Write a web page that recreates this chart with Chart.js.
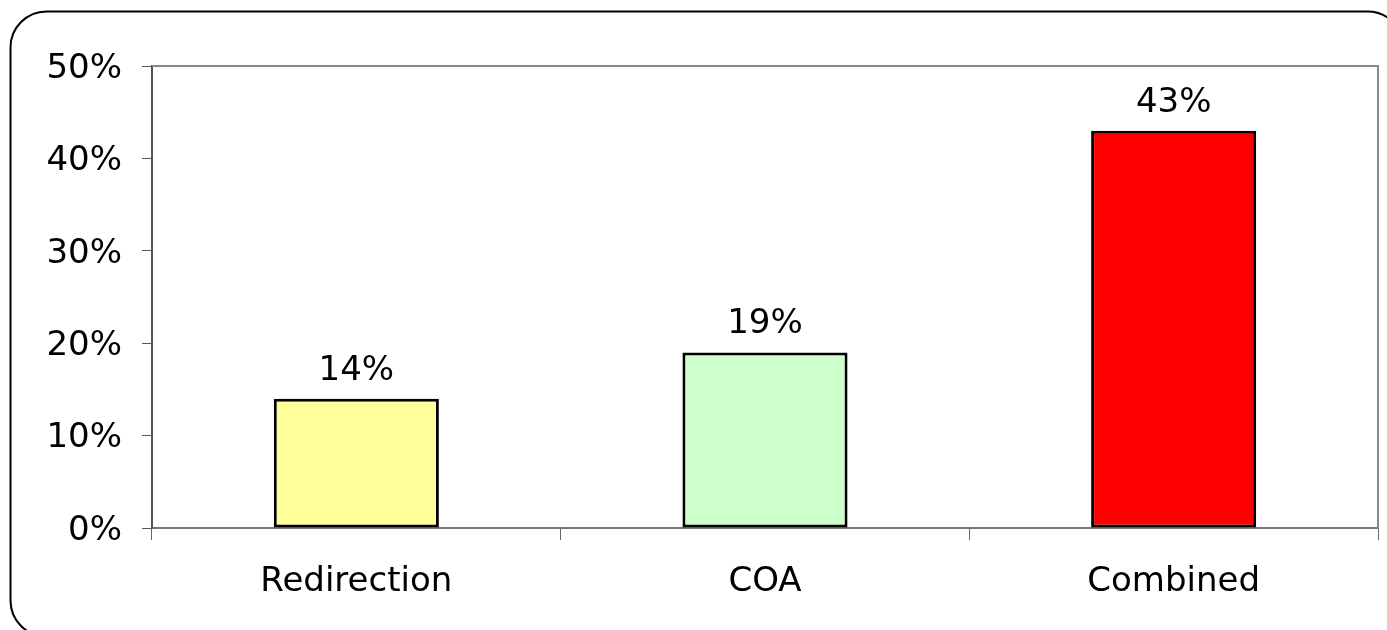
<!DOCTYPE html>
<html>
<head>
<meta charset="utf-8">
<script src="https://cdn.jsdelivr.net/npm/chart.js@4/dist/chart.umd.min.js"></script>
<style>
  html, body { margin: 0; padding: 0; background: #fff; }
  #wrap { width: 1387px; height: 630px; position: relative; }
</style>
</head>
<body>
<div id="wrap"><canvas id="chart"></canvas></div>
<script>
const categories = ['Redirection', 'COA', 'Combined'];
const values = [14, 19, 43];
const barColors = ['#FFFF99', '#CCFFCC', '#FF0000'];
const yTicks = [0, 10, 20, 30, 40, 50];

const FONT = 'DejaVu Sans';

// rounded frame around the whole picture, plus top/right plot border
const framePlugin = {
    id: 'frame',
    beforeDraw(chart) {
        const ctx = chart.ctx;
        ctx.save();
        ctx.fillStyle = '#fff';
        ctx.fillRect(0, 0, chart.width, chart.height);
        ctx.beginPath();
        ctx.roundRect(10.5, 11.5, 1393, 625, 36);
        ctx.strokeStyle = '#000';
        ctx.lineWidth = 2;
        ctx.stroke();
        ctx.restore();
    },
    afterDatasetsDraw(chart) {
        const { ctx, chartArea: a } = chart;
        ctx.save();
        ctx.strokeStyle = '#888';
        ctx.lineWidth = 2;
        ctx.beginPath();
        ctx.moveTo(a.left, a.top);
        ctx.lineTo(a.right, a.top);
        ctx.lineTo(a.right, a.bottom);
        ctx.stroke();
        ctx.restore();
    }
};

const valueLabels = {
    id: 'valueLabels',
    afterDatasetsDraw(chart) {
        const ctx = chart.ctx;
        const meta = chart.getDatasetMeta(0);
        ctx.save();
        ctx.font = '34px ' + FONT;
        ctx.fillStyle = '#000';
        ctx.textAlign = 'center';
        ctx.textBaseline = 'alphabetic';
        meta.data.forEach((bar, i) => {
            ctx.fillText(values[i] + '%', bar.x, bar.y - 19);
        });
        ctx.restore();
    }
};

new Chart(document.getElementById('chart'), {
    type: 'bar',
    data: {
        labels: categories,
        datasets: [{
            data: values,
            backgroundColor: barColors,
            borderColor: '#000',
            borderWidth: 3,
            borderSkipped: false,
            barPercentage: 0.404,
            categoryPercentage: 1
        }]
    },
    options: {
        responsive: true,
        maintainAspectRatio: false,
        animation: false,
        layout: { padding: { top: 66, right: 9, left: 0, bottom: 0 } },
        plugins: {
            legend: { display: false },
            tooltip: { enabled: false }
        },
        scales: {
            x: {
                offset: true,
                afterFit(scale) { scale.height = 102; },
                grid: {
                    offset: true,
                    drawOnChartArea: false,
                    drawTicks: true,
                    tickLength: 12,
                    color: '#666',
                    lineWidth: 1
                },
                border: { display: true, color: '#777', width: 2 },
                ticks: {
                    color: '#000',
                    padding: 22,
                    font: { family: FONT, size: 34 }
                }
            },
            y: {
                min: 0,
                max: 50,
                afterFit(scale) { scale.width = 152; },
                afterBuildTicks(scale) {
                    scale.ticks = yTicks.map(v => ({ value: v }));
                },
                grid: {
                    drawOnChartArea: false,
                    drawTicks: true,
                    tickLength: 10,
                    color: '#555',
                    lineWidth: 1
                },
                border: { display: true, color: '#555', width: 2 },
                ticks: {
                    color: '#000',
                    padding: 20,
                    labelOffset: 3,
                    font: { family: FONT, size: 34 },
                    callback: v => v + '%'
                }
            }
        }
    },
    plugins: [framePlugin, valueLabels]
});
</script>
</body>
</html>
